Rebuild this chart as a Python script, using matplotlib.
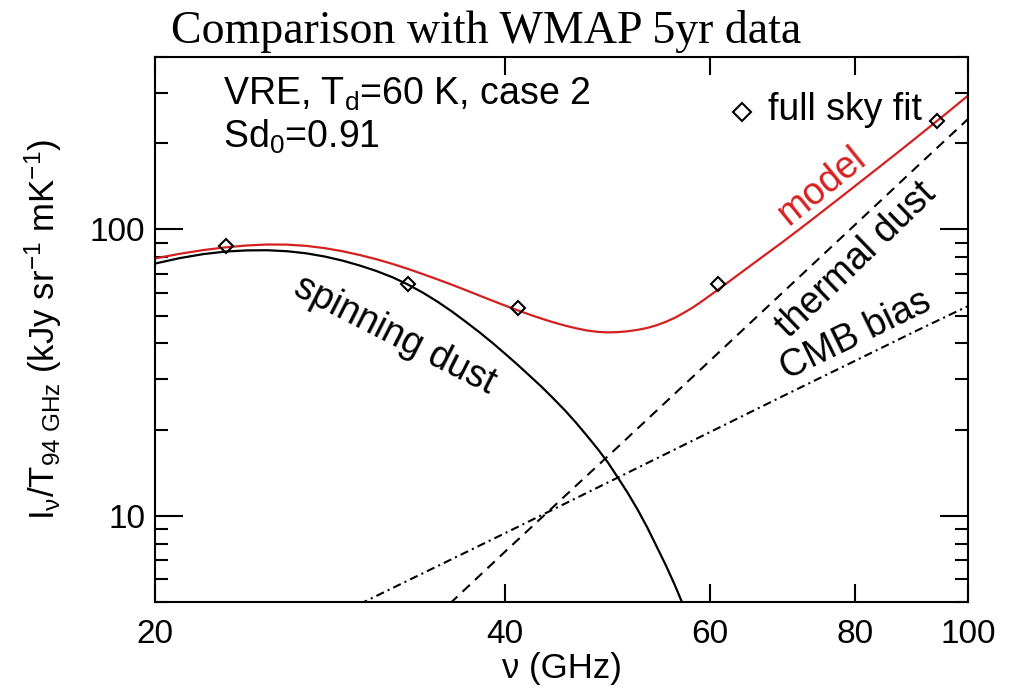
import matplotlib
matplotlib.use("Agg")
import matplotlib.pyplot as plt
from matplotlib.ticker import FixedLocator, FixedFormatter, NullLocator, LogLocator, NullFormatter

# values (GHz, kJy/sr/mK)
freq_model = [20, 21, 22, 23, 24, 25, 26, 27, 28, 29, 30, 31, 32, 33, 34, 35, 36, 37, 38, 39,
              40, 41, 42, 43, 44, 45, 46, 47, 48, 49, 50, 51, 52, 53, 54, 55, 56, 57, 58, 59,
              60, 61, 62, 63, 64, 65, 66, 67, 68, 69, 70, 72, 74, 76, 78, 80, 82, 84, 86, 88,
              90, 92, 94, 96, 98, 100]
model = [79.2, 82.2, 84.7, 86.6, 87.9, 88.6, 88.5, 87.6, 86.0, 83.9, 81.4, 78.7, 75.8, 72.8, 69.8,
         66.9, 64.1, 61.4, 58.8, 56.4, 54.2, 52.2, 50.4, 48.8, 47.4, 46.2, 45.2, 44.4, 43.9, 43.7,
         43.8, 44.1, 44.6, 45.3, 46.3, 47.6, 49.2, 51.2, 53.4, 56.0, 58.8, 61.7, 64.8, 68.0, 71.3,
         74.7, 78.2, 81.8, 85.5, 89.3, 93.3, 101.8, 110.9, 120.7, 131.0, 142.0, 153.6, 165.9, 178.9,
         192.6, 207.2, 222.6, 238.9, 256.0, 274.2, 293.3]

freq_spin = [20, 21, 22, 23, 24, 25, 26, 27, 28, 29, 30, 31, 32, 33, 34, 35, 36, 37, 38, 39,
             40, 41, 42, 43, 44, 45, 46, 47, 48, 49, 50, 51, 52, 53, 54, 55, 56, 57, 58]
spinning = [76.0, 79.4, 82.0, 83.7, 84.5, 84.6, 83.9, 82.5, 80.4, 77.8, 74.8, 71.6, 68.1, 64.2,
            60.1, 55.9, 51.7, 47.6, 43.8, 40.2, 36.8, 33.7, 30.8, 28.2, 25.7, 23.4, 21.2, 19.1,
            17.2, 15.4, 13.6, 12.0, 10.5, 9.1, 7.8, 6.7, 5.7, 4.8, 4.0]

freq_thermal = [35, 40, 45, 50, 60, 70, 80, 90, 100]
thermal = [4.5, 7.5, 11.7, 17.4, 34.8, 62.6, 104, 163, 243]

freq_cmb = [29, 40, 50, 60, 70, 80, 90, 100]
cmb = [4.6, 8.7, 13.6, 19.6, 26.7, 34.8, 44, 54]

freq_fit = [23, 33, 41, 61, 94]
full_sky_fit = [87.2, 64.3, 53, 64.7, 240]

x_ticks = [20, 40, 60, 80, 100]

plt.rcParams["font.family"] = ["Liberation Sans", "DejaVu Sans"]
plt.rcParams["mathtext.fontset"] = "custom"
plt.rcParams["mathtext.rm"] = "Liberation Sans"
plt.rcParams["mathtext.it"] = "Liberation Sans:italic"
plt.rcParams["mathtext.default"] = "regular"

fig = plt.figure(figsize=(10.15, 6.93), dpi=100)
ax = fig.add_axes([0.1527, 0.1313, 0.801, 0.7864])

red = "#d62020"
ax.plot(freq_model, model, color=red, lw=1.6)
ax.plot(freq_spin, spinning, color="black", lw=1.6)
ax.plot(freq_thermal, thermal, color="black", lw=1.5, dashes=(4.8, 3.4))
ax.plot(freq_cmb, cmb, color="black", lw=1.5, dashes=(4, 2, 1, 2))
ax.plot(freq_fit, full_sky_fit, ls="none", marker="D", ms=7, mfc="none", mec="black", mew=1.5)

ax.set_xscale("log")
ax.set_yscale("log")
ax.set_xlim(20, 100)
ax.set_ylim(5, 400)

ax.xaxis.set_major_locator(FixedLocator(x_ticks))
ax.xaxis.set_major_formatter(FixedFormatter([str(t) for t in x_ticks]))
ax.xaxis.set_minor_locator(NullLocator())
ax.yaxis.set_major_locator(FixedLocator([10, 100]))
ax.yaxis.set_major_formatter(FixedFormatter(["10", "100"]))
ax.yaxis.set_minor_locator(LogLocator(base=10, subs=range(2, 10)))
ax.yaxis.set_minor_formatter(NullFormatter())

for s in ax.spines.values():
    s.set_linewidth(1.5)
ax.tick_params(axis="both", which="both", direction="in", top=True, right=True, width=1.5, labelsize=24)
ax.tick_params(axis="x", which="major", length=13, pad=12)
ax.tick_params(axis="y", which="major", length=20, pad=7)
ax.tick_params(axis="y", which="minor", length=9.5)

ax.set_xlabel("ν (GHz)", fontsize=25)
ax.xaxis.set_label_coords(0.5, -0.092)
ax.set_ylabel(r"I$_ν$/T$_{94\ GHz}$ (kJy sr$^{-1}$ mK$^{-1}$)", fontsize=25)
ax.yaxis.set_label_coords(-0.112, 0.5)

fig.text(0.479, 0.955, "Comparison with WMAP 5yr data", family="Liberation Serif",
         fontsize=33, ha="center", va="center")

ax.text(0.084, 0.912, r"VRE, T$_d$=60 K, case 2", transform=ax.transAxes, fontsize=27, va="baseline")
ax.text(0.084, 0.833, r"Sd$_0$=0.91", transform=ax.transAxes, fontsize=27, va="baseline")

ax.plot([0.722], [0.899], transform=ax.transAxes, marker="D", ms=9, mfc="none", mec="black", mew=1.5, clip_on=False)
ax.text(0.754, 0.903, "full sky fit", transform=ax.transAxes, fontsize=27, va="center")

ax.text(0.295, 0.490, "spinning dust", transform=ax.transAxes, fontsize=27, rotation=-27,
        ha="center", va="center", rotation_mode="anchor")
ax.text(0.820, 0.763, "model", transform=ax.transAxes, fontsize=27, rotation=39, color=red,
        ha="center", va="center", rotation_mode="anchor")
ax.text(0.862, 0.628, "thermal dust", transform=ax.transAxes, fontsize=27, rotation=44,
        ha="center", va="center", rotation_mode="anchor")
ax.text(0.862, 0.490, "CMB bias", transform=ax.transAxes, fontsize=27, rotation=26,
        ha="center", va="center", rotation_mode="anchor")

fig.savefig("out.png", dpi=100)
